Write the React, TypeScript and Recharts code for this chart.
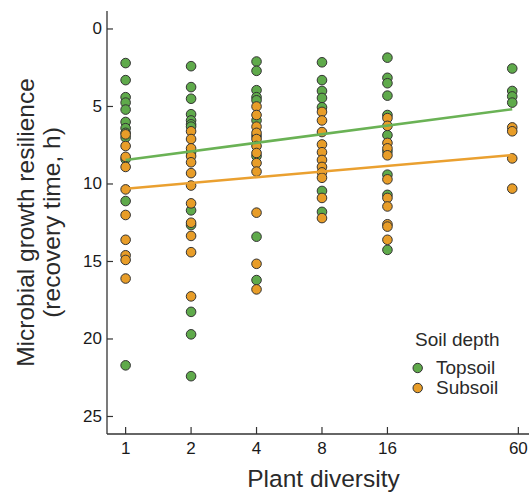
import React from "react";
import { ScatterChart, Scatter, XAxis, YAxis, Legend } from "recharts";

const FONT = '"Liberation Sans", Arial, Helvetica, sans-serif';
const GREEN = "#5faa4b";
const ORANGE = "#e89d28";
const GREEN_LINE = "#6ab255";
const ORANGE_LINE = "#eaa030";

// plant species richness per plot
const diversity = [1, 2, 4, 8, 16, 60];

// recovery time (h), one list per diversity level
const topsoilTimes = [
  [2.2, 3.3, 4.4, 4.75, 5.2, 6.0, 6.4, 6.7, 7.0, 8.4, 11.1, 21.7],
  [2.4, 3.75, 4.5, 5.5, 5.9, 6.15, 6.3, 7.95, 11.7, 12.65, 18.25, 19.7, 22.4],
  [2.1, 2.7, 3.95, 4.4, 4.6, 5.9, 6.9, 8.2, 13.4, 16.2],
  [2.15, 3.3, 4.0, 4.45, 5.05, 10.45, 11.8],
  [1.85, 3.15, 3.5, 4.3, 5.55, 6.85, 7.9, 9.4, 10.7, 14.25],
  [2.55, 4.0, 4.35, 4.75],
];
const subsoilTimes = [
  [6.8, 7.55, 8.25, 8.9, 10.35, 12.0, 13.6, 14.6, 14.9, 16.1],
  [6.6, 7.1, 7.7, 8.2, 8.6, 9.3, 10.1, 11.25, 12.5, 13.35, 14.4, 17.25],
  [5.0, 5.55, 6.3, 6.7, 7.1, 7.55, 8.0, 8.65, 9.2, 11.85, 15.15, 16.8],
  [5.35, 5.9, 6.65, 7.45, 7.95, 8.45, 8.9, 9.25, 9.6, 10.9, 12.2],
  [5.75, 6.25, 7.35, 7.7, 8.15, 9.7, 10.9, 11.45, 12.6, 12.75, 13.6],
  [6.35, 6.6, 8.35, 10.3],
];

// fitted regression ends (at diversity 1 and 60)
const fitX = [1, 60];
const topsoilFit = [8.45, 5.18];
const subsoilFit = [10.3, 8.13];

const xTicks = [1, 2, 4, 8, 16, 64];
const xTickLabels = ["1", "2", "4", "8", "16", "60"];
const yTicks = [0, 5, 10, 15, 20, 25];
const legendOrder = ["Topsoil", "Subsoil"];

const toPoints = (groups: number[][]) =>
  groups.flatMap((vals, i) => vals.map((y) => ({ x: diversity[i], y })));
const toLine = (ys: number[]) => ys.map((y, i) => ({ x: fitX[i], y }));

const topsoil = toPoints(topsoilTimes);
const subsoil = toPoints(subsoilTimes);

const dot = (fill: string) => (p: any) => (
  <circle cx={p.cx} cy={p.cy} r={4.8} fill={fill} stroke="#333" strokeWidth={1} />
);

const XTick = ({ x, y, payload }: any) => {
  const idx = xTicks.indexOf(payload.value);
  return (
    <g>
      <line x1={x} x2={x} y1={y} y2={y - 7} stroke="#333" strokeWidth={1.2} />
      <text x={x} y={y + 14} textAnchor="middle" dominantBaseline="central"
        fontFamily={FONT} fontSize={17} fill="#1a1a1a">
        {xTickLabels[idx]}
      </text>
    </g>
  );
};

const YTick = ({ x, y, payload }: any) => (
  <g>
    <line x1={x} x2={x + 6} y1={y} y2={y} stroke="#333" strokeWidth={1.2} />
    <text x={x - 5} y={y} textAnchor="end" dominantBaseline="central"
      fontFamily={FONT} fontSize={17} fill="#1a1a1a">
      {payload.value}
    </text>
  </g>
);

const YTitle = () => (
  <text transform="rotate(-90, 25, 222.5)" x={25} y={222.5} textAnchor="middle"
    dominantBaseline="central" fontFamily={FONT} fontSize={24.5} fill="#2a2a2a">
    <tspan x={25}>Microbial growth resilience</tspan>
    <tspan x={25} dy={25.5}>(recovery time, h)</tspan>
  </text>
);

const LegendBox = ({ payload }: any) => {
  const items = (payload || [])
    .filter((e: any) => legendOrder.includes(e.value))
    .sort((a: any, b: any) => legendOrder.indexOf(a.value) - legendOrder.indexOf(b.value));
  return (
    <div style={{ fontFamily: FONT, color: "#2a2a2a" }}>
      <div style={{ fontSize: 19, lineHeight: "22px", marginLeft: 6 }}>Soil depth</div>
      <div style={{ marginTop: 7 }}>
        {items.map((e: any) => (
          <div key={e.value} style={{ display: "flex", alignItems: "center", height: 20 }}>
            <svg width={18} height={12}>
              <circle cx={8.7} cy={6} r={4.7} fill={e.color} stroke="#333" strokeWidth={1} />
            </svg>
            <span style={{ fontSize: 19, marginLeft: 9 }}>{e.value}</span>
          </div>
        ))}
      </div>
    </div>
  );
};

export default function App() {
  return (
    <div style={{ position: "absolute", left: 0, top: 0, width: 529, height: 494, overflow: "hidden", background: "#fff" }}>
      <ScatterChart width={560} height={494} margin={{ top: 11, right: 20, bottom: 0, left: 0 }}>
        <XAxis dataKey="x" type="number" scale="log" domain={[0.821, 80.5]} allowDataOverflow
          ticks={xTicks} tick={<XTick />} tickLine={false} tickSize={0} tickMargin={0}
          axisLine={{ stroke: "#333", strokeWidth: 1.3 }} height={60}
          label={{ value: "Plant diversity", position: "insideBottom", offset: 7, fontFamily: FONT, fontSize: 24.5, fill: "#2a2a2a" }} />
        <XAxis xAxisId="top" orientation="top" dataKey="x" type="number" scale="log"
          domain={[0.821, 80.5]} allowDataOverflow height={0} tick={false} tickLine={false}
          axisLine={{ stroke: "#666", strokeWidth: 1.3 }} />
        <YAxis dataKey="y" type="number" reversed domain={[-1.16, 26.13]} allowDataOverflow
          ticks={yTicks} tick={<YTick />} tickLine={false} tickSize={0} tickMargin={0}
          axisLine={{ stroke: "#333", strokeWidth: 1.3 }} width={107} label={<YTitle />} />
        <Legend layout="vertical" align="center" verticalAlign="middle" content={<LegendBox />}
          wrapperStyle={{ left: 409, top: 329, width: 120 }} />
        <Scatter name="Topsoil" data={topsoil} fill={GREEN} shape={dot(GREEN)} isAnimationActive={false} />
        <Scatter name="Subsoil" data={subsoil} fill={ORANGE} shape={dot(ORANGE)} isAnimationActive={false} />
        <Scatter name="topsoil fit" data={toLine(topsoilFit)} legendType="none" fill={GREEN_LINE}
          line={{ stroke: GREEN_LINE, strokeWidth: 2.5 }} shape={() => <g />} isAnimationActive={false} />
        <Scatter name="subsoil fit" data={toLine(subsoilFit)} legendType="none" fill={ORANGE_LINE}
          line={{ stroke: ORANGE_LINE, strokeWidth: 2.5 }} shape={() => <g />} isAnimationActive={false} />
      </ScatterChart>
    </div>
  );
}
